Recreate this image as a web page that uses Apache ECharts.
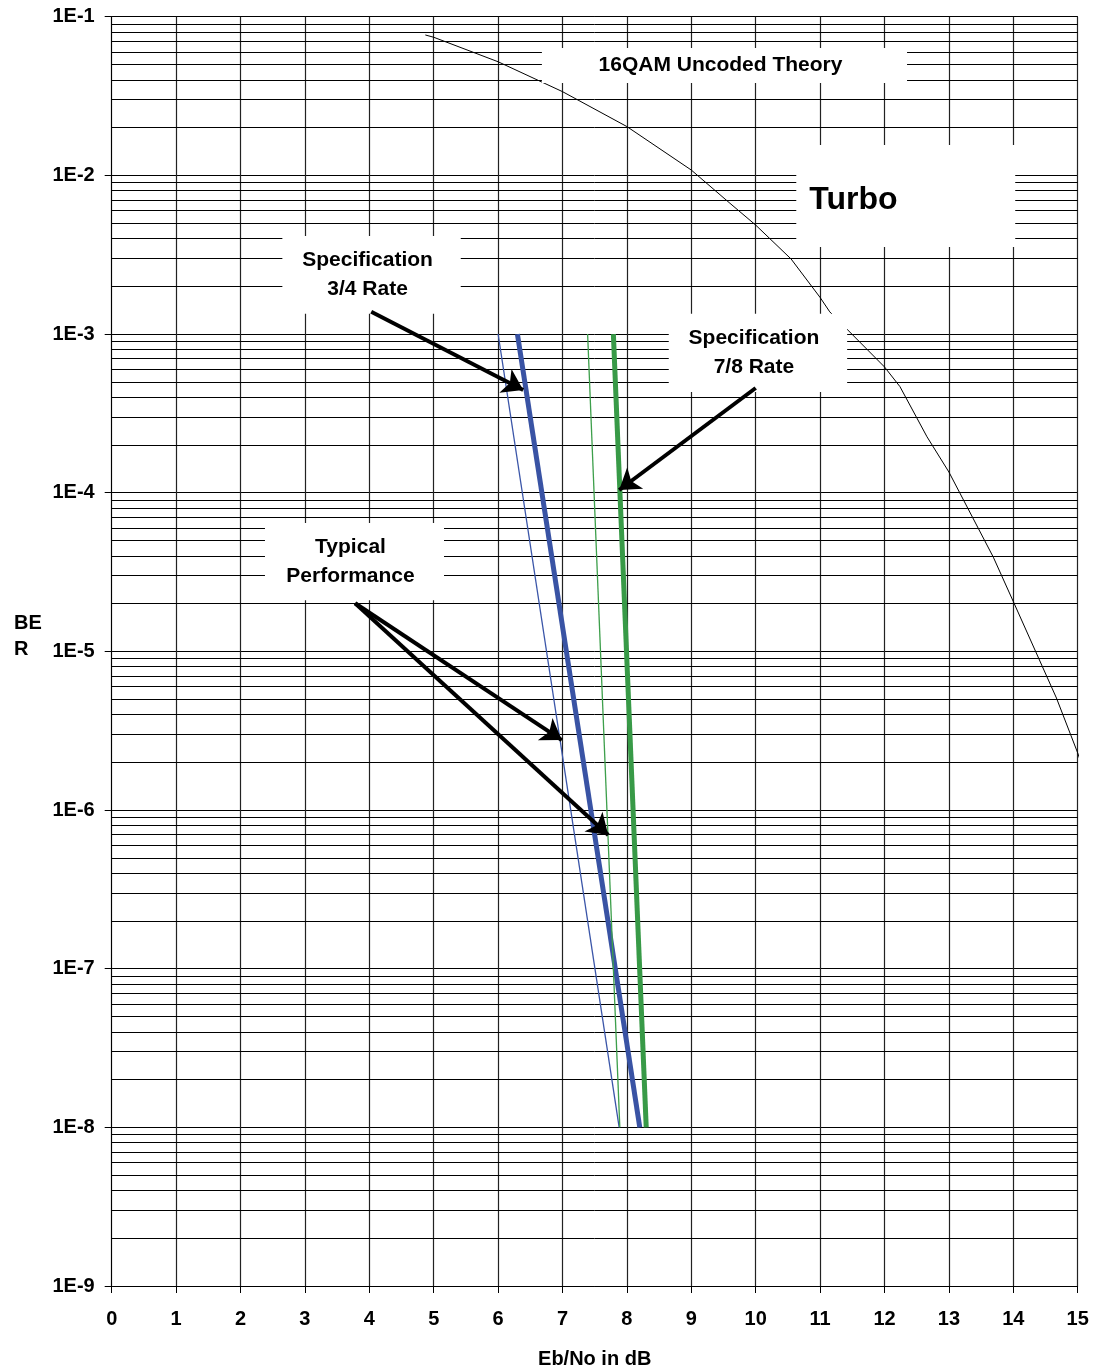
<!DOCTYPE html>
<html>
<head>
<meta charset="utf-8">
<script src="https://cdn.jsdelivr.net/npm/echarts@6/dist/echarts.min.js"></script>
<style>html,body{margin:0;padding:0;background:#fff}#c{width:1096px;height:1370px}</style>
</head>
<body>
<div id="c"></div>
<script>
// ---------- DATA ----------
const yTickLabels = ['1E-9','1E-8','1E-7','1E-6','1E-5','1E-4','1E-3','1E-2','1E-1'];
const minorMultipliers = [2,3,4,5,6,7,8,9];
const minorDecades = [-9,-8,-7,-6,-5,-4,-3,-2];

// 16QAM uncoded theory
const theoryX = [4.87, 5.0, 6.0, 7.0, 8.0, 9.0, 9.6, 10.0, 10.55, 11.0, 11.15, 12.0, 12.24, 12.66, 13.0, 13.69, 14.0, 14.67, 15.0, 15.28];
const theoryY = [7.67e-2, 7.42e-2, 5.2e-2, 3.37e-2, 2.03e-2, 1.08e-2, 6.67e-3, 4.86e-3, 2.97e-3, 1.7e-3, 1.38e-3, 6.2e-4, 4.66e-4, 2.25e-4, 1.35e-4, 3.92e-5, 2.06e-5, 5.08e-6, 2.29e-6, 1.05e-6];

// Turbo lines
const typical34X = [6.0, 7.88];  const typical34Y = [1e-3, 1e-8];
const spec34X    = [6.3, 8.2];   const spec34Y    = [1e-3, 1e-8];
const typical78X = [7.39, 7.89]; const typical78Y = [1e-3, 1e-8];
const spec78X    = [7.79, 8.3];  const spec78Y    = [1e-3, 1e-8];

// Annotation texts
const boxTexts = ['16QAM Uncoded Theory', 'Turbo', 'Specification\n3/4 Rate', 'Specification\n7/8 Rate', 'Typical\nPerformance'];
const boxX = [[6.68, 12.35], [10.63, 14.03], [2.65, 5.42], [8.65, 11.42], [2.38, 5.16]];
const boxY = [[6.35e-2, 3.82e-2], [1.553e-2, 3.54e-3], [4.15e-3, 1.34e-3], [1.34e-3, 4.31e-4], [6.44e-5, 2.10e-5]];

// Arrows: [start, tip]
const arrowStart = [[4.03, 1.38e-3], [10.0, 4.57e-4], [3.78, 2.01e-5], [3.78, 2.01e-5]];
const arrowTip   = [[6.39, 4.44e-4], [7.88, 1.04e-4], [6.99, 2.76e-6], [7.71, 6.95e-7]];

// ---------- CHART ----------
const FONT = '"Liberation Sans", Arial, Helvetica, sans-serif';
const pair = (xs, ys) => xs.map((x, i) => [x, ys[i]]);
const minorValues = [];
minorDecades.forEach(e => minorMultipliers.forEach(m => minorValues.push(m * Math.pow(10, e))));

const labelBase = { color: '#000', fontFamily: FONT, fontWeight: 'bold', fontSize: 21, lineHeight: 29 };

const boxData = boxTexts.map((t, i) => {
  const isTurbo = t === 'Turbo';
  return [
    {
      name: t,
      coord: [boxX[i][0], boxY[i][0]],
      label: isTurbo
        ? Object.assign({}, labelBase, { position: 'insideLeft', distance: 13, fontSize: 32, lineHeight: 36, offset: [0, 4] })
        : Object.assign({}, labelBase, { position: 'inside', offset: [-4, 0] })
    },
    { coord: [boxX[i][1], boxY[i][1]] }
  ];
});

const arrowData = arrowStart.map((s, i) => [
  { coord: s, symbol: 'none' },
  { coord: arrowTip[i], symbol: 'arrow' }
]);

function lineSeries(name, data, color, width, z) {
  return {
    name, type: 'line', data, symbol: 'none', showSymbol: false, z,
    lineStyle: { color, width, cap: 'butt' },
    emphasis: { disabled: true }, silent: true, animation: false
  };
}

const chart = echarts.init(document.getElementById('c'), null, { renderer: 'canvas' });
chart.setOption({
  animation: false,
  backgroundColor: '#fff',
  grid: { left: 111.7, right: 18.3, top: 16.7, bottom: 84, containLabel: false, outerBoundsMode: 'none' },
  xAxis: {
    type: 'value', min: 0, max: 15, interval: 1,
    name: 'Eb/No in dB', nameLocation: 'middle', nameGap: 63,
    nameTextStyle: { color: '#000', fontFamily: FONT, fontWeight: 'bold', fontSize: 20 },
    axisLine: { show: true, onZero: false, lineStyle: { color: '#000', width: 1 } },
    axisTick: { show: true, length: 7, lineStyle: { color: '#000', width: 1 } },
    axisLabel: { color: '#000', fontFamily: FONT, fontWeight: 'bold', fontSize: 20, margin: 23, showMinLabel: true, showMaxLabel: true },
    splitLine: { show: true, lineStyle: { color: '#222', width: 1.2 } }
  },
  yAxis: {
    type: 'log', logBase: 10, min: 1e-9, max: 1e-1,
    axisLine: { show: true, lineStyle: { color: '#000', width: 1 } },
    axisTick: { show: true, length: 7, lineStyle: { color: '#000', width: 1 } },
    axisLabel: {
      color: '#000', fontFamily: FONT, fontWeight: 'bold', fontSize: 20, margin: 17,
      formatter: v => yTickLabels[Math.round(Math.log10(v)) + 9]
    },
    splitLine: { show: true, lineStyle: { color: '#000', width: 1 } },
    minorTick: { show: false }, minorSplitLine: { show: false }
  },
  graphic: [{
    type: 'text', left: 14, top: 610,
    style: { text: 'BE\nR', fill: '#000', font: 'bold 20px ' + FONT, lineHeight: 26 }
  }],
  series: [
    {
      name: 'minorGrid', type: 'line', data: [], z: 1, silent: true,
      markLine: {
        z: 1, silent: true, symbol: 'none', animation: false, precision: 15,
        label: { show: false }, emphasis: { disabled: true },
        lineStyle: { color: '#000', width: 1, type: 'solid' },
        data: minorValues.map(v => ({ yAxis: v }))
      }
    },
    Object.assign(lineSeries('16QAM Uncoded Theory', pair(theoryX, theoryY), '#000', 1, 3), { clip: false }),
    lineSeries('Typical 3/4', pair(typical34X, typical34Y), '#3a55a8', 1.3, 4),
    lineSeries('Spec 3/4', pair(spec34X, spec34Y), '#3953a4', 5, 4),
    lineSeries('Typical 7/8', pair(typical78X, typical78Y), '#3d9f4b', 1.3, 4),
    lineSeries('Spec 7/8', pair(spec78X, spec78Y), '#389a47', 5, 4),
    {
      name: 'boxes', type: 'line', data: [], z: 10, silent: true,
      markArea: {
        z: 10, silent: true, animation: false,
        itemStyle: { color: '#fff', opacity: 1, borderWidth: 0 },
        emphasis: { disabled: true },
        data: boxData
      }
    },
    {
      name: 'arrows', type: 'line', data: [], z: 11, silent: true,
      markLine: {
        z: 11, silent: true, animation: false, precision: 15,
        symbol: ['none', 'arrow'], symbolSize: 20,
        label: { show: false }, emphasis: { disabled: true },
        lineStyle: { color: '#000', width: 4, type: 'solid' },
        data: arrowData
      }
    }
  ]
});
</script>
</body>
</html>
